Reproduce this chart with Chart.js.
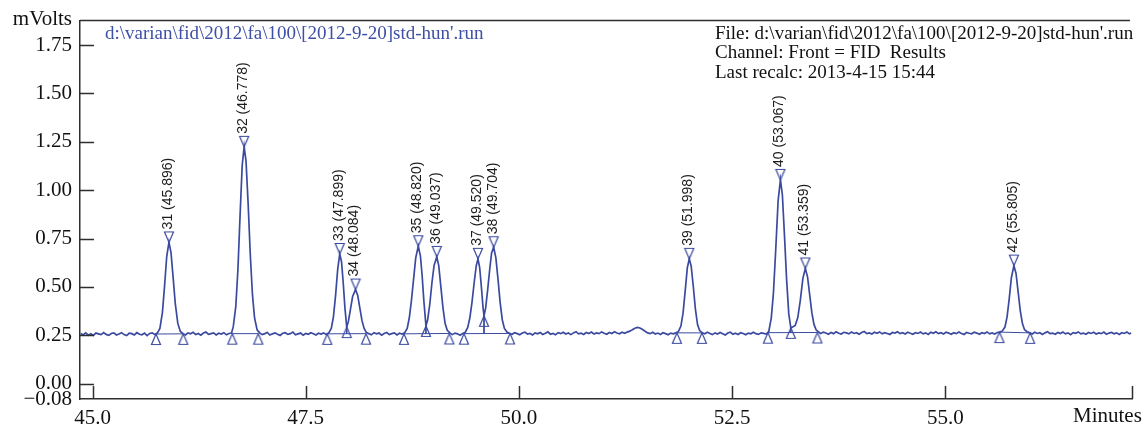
<!DOCTYPE html>
<html>
<head>
<meta charset="utf-8">
<script src="https://cdn.jsdelivr.net/npm/chart.js@4.4.0/dist/chart.umd.min.js"></script>
<style>
    html, body { margin: 0; padding: 0; background: #ffffff; }
    #cromatograma { display: block; }
</style>
</head>
<body>
<canvas id="cromatograma" width="1146" height="428"></canvas>
<script>
"use strict";

/**
 */
const filePath = "d:\\varian\\fid\\2012\\fa\\100\\[2012-9-20]std-hun'.run";
const headerLines = [
    "File: " + filePath,
    "Channel: Front = FID  Results",
    "Last recalc: 2013-4-15 15:44",
];

const peakNumbers = [31, 32, 33, 34, 35, 36, 37, 38, 39, 40, 41, 42];
const retentionTimes = [45.896, 46.778, 47.899, 48.084, 48.820, 49.037, 49.520, 49.704, 51.998, 53.067, 53.359, 55.805];
const peakHeights = [0.730, 1.224, 0.670, 0.486, 0.710, 0.655, 0.645, 0.705, 0.645, 1.053, 0.595, 0.610];

// lineas base de integracion (inicio / fin de cada grupo de picos)
const groupStartTimes = [45.744, 46.639, 47.753, 48.652, 49.356, 51.853, 52.920, 55.636];
const groupStartLevels = [0.256, 0.258, 0.257, 0.257, 0.258, 0.262, 0.263, 0.266];
const groupEndTimes = [46.064, 46.944, 48.207, 49.184, 49.896, 52.146, 53.501, 55.996];
const groupEndLevels = [0.257, 0.258, 0.258, 0.259, 0.259, 0.262, 0.264, 0.262];

// valles entre picos solapados
const valleyTimes = [47.981, 48.910, 49.591, 53.189];
const valleyLevels = [0.292, 0.298, 0.350, 0.288];
const valleyGroups = [2, 3, 4, 6];

const xTickValues = [45.0, 47.5, 50.0, 52.5, 55.0];
const yTickValues = [-0.08, 0.00, 0.25, 0.50, 0.75, 1.00, 1.25, 1.50, 1.75];

// senal del detector [minutos, mVolts]
const signal = [
    [44.86, .259], [44.89, .252], [44.92, .262], [44.95, .250], [44.98, .258], [45.01, .249], [45.04, .261], [45.07, .257],
    [45.10, .253], [45.13, .264], [45.16, .254], [45.19, .249], [45.22, .259], [45.25, .262], [45.28, .251], [45.31, .256],
    [45.34, .263], [45.37, .253], [45.40, .248], [45.43, .260], [45.46, .258], [45.49, .251], [45.52, .263], [45.55, .255],
    [45.58, .252], [45.61, .261], [45.64, .248], [45.67, .259], [45.70, .262], [45.73, .254],
    [45.76, .261], [45.79, .285], [45.82, .369], [45.845, .506], [45.87, .657], [45.896, .730], [45.92, .678],
    [45.945, .549], [45.97, .415], [46.00, .311], [46.03, .269], [46.06, .258],
    [46.09, .251], [46.12, .262], [46.15, .257], [46.18, .265], [46.21, .253], [46.24, .259], [46.27, .250], [46.30, .261],
    [46.33, .266], [46.36, .254], [46.39, .258], [46.42, .262], [46.45, .251], [46.48, .260], [46.51, .256], [46.54, .263],
    [46.57, .252], [46.60, .259], [46.63, .261],
    [46.65, .293], [46.68, .398], [46.705, .590], [46.73, .867], [46.755, 1.127], [46.778, 1.224], [46.80, 1.150],
    [46.825, .928], [46.85, .667], [46.875, .462], [46.90, .339], [46.93, .278], [46.96, .262],
    [46.99, .253], [47.02, .258], [47.05, .264], [47.08, .251], [47.11, .257], [47.14, .262], [47.17, .255], [47.20, .249],
    [47.23, .260], [47.26, .263], [47.29, .254], [47.32, .258], [47.35, .266], [47.38, .252], [47.41, .257], [47.44, .261],
    [47.47, .250], [47.50, .259], [47.53, .255], [47.56, .263], [47.59, .257], [47.62, .251], [47.65, .260], [47.68, .256],
    [47.71, .262], [47.74, .254],
    [47.77, .262], [47.80, .285], [47.825, .345], [47.85, .455], [47.875, .590], [47.899, .670], [47.92, .630],
    [47.94, .520], [47.96, .390], [47.981, .292], [48.00, .320], [48.025, .385], [48.05, .450], [48.084, .486],
    [48.11, .455], [48.135, .390], [48.16, .325], [48.185, .285], [48.21, .265], [48.24, .258],
    [48.27, .252], [48.30, .263], [48.33, .257], [48.36, .261], [48.39, .250], [48.42, .259], [48.45, .264], [48.48, .253],
    [48.51, .258], [48.54, .262], [48.57, .251], [48.60, .260], [48.63, .256],
    [48.66, .262], [48.69, .285], [48.715, .340], [48.74, .430], [48.765, .540], [48.79, .650], [48.820, .710],
    [48.845, .660], [48.865, .560], [48.885, .430], [48.910, .298], [48.93, .330], [48.955, .410], [48.98, .520],
    [49.005, .610], [49.037, .655], [49.06, .610], [49.085, .500], [49.11, .390], [49.135, .310], [49.16, .275],
    [49.19, .262],
    [49.22, .253], [49.25, .261], [49.28, .257], [49.31, .250], [49.34, .259],
    [49.37, .264], [49.40, .290], [49.425, .340], [49.45, .420], [49.475, .520], [49.50, .610], [49.520, .645],
    [49.54, .600], [49.56, .500], [49.58, .390], [49.591, .350], [49.61, .390], [49.635, .490], [49.66, .600],
    [49.68, .675], [49.704, .705], [49.73, .650], [49.755, .540], [49.78, .420], [49.805, .330], [49.83, .285],
    [49.86, .266], [49.89, .259],
    [49.92, .255], [49.95, .263], [49.98, .258], [50.01, .252], [50.04, .261], [50.07, .266], [50.10, .256], [50.13, .259],
    [50.16, .251], [50.19, .262], [50.22, .257], [50.25, .264], [50.28, .254], [50.31, .260], [50.34, .267], [50.37, .255],
    [50.40, .259], [50.43, .252], [50.46, .263], [50.49, .258], [50.52, .265], [50.55, .256], [50.58, .261], [50.61, .253],
    [50.64, .262], [50.67, .268], [50.70, .257], [50.73, .260], [50.76, .254], [50.79, .264], [50.82, .259], [50.85, .266],
    [50.88, .256], [50.91, .262], [50.94, .258], [50.97, .267], [51.00, .260], [51.03, .255], [51.06, .264], [51.09, .259],
    [51.12, .268], [51.15, .261], [51.18, .257], [51.21, .265], [51.24, .260], [51.27, .266], [51.30, .271], [51.33, .278],
    [51.36, .286], [51.39, .290], [51.42, .287], [51.45, .279], [51.48, .270], [51.51, .262], [51.54, .258], [51.57, .265],
    [51.60, .256], [51.63, .261], [51.66, .254], [51.69, .263], [51.72, .258], [51.75, .252], [51.78, .261], [51.81, .257],
    [51.84, .262],
    [51.87, .268], [51.90, .297], [51.925, .364], [51.95, .478], [51.975, .598], [51.998, .645], [52.02, .608],
    [52.045, .503], [52.07, .385], [52.095, .305], [52.12, .274], [52.15, .262],
    [52.18, .257], [52.21, .265], [52.24, .259], [52.27, .253], [52.30, .262], [52.33, .256], [52.36, .264], [52.39, .258],
    [52.42, .251], [52.45, .261], [52.48, .266], [52.51, .255], [52.54, .260], [52.57, .254], [52.60, .263], [52.63, .259],
    [52.66, .252], [52.69, .261], [52.72, .257], [52.75, .265], [52.78, .258], [52.81, .254], [52.84, .262], [52.87, .259],
    [52.90, .256],
    [52.93, .268], [52.96, .340], [52.985, .468], [53.01, .675], [53.04, .946], [53.067, 1.053], [53.09, .975],
    [53.115, .761], [53.14, .535], [53.165, .360], [53.189, .288], [53.21, .292], [53.24, .300], [53.27, .340],
    [53.30, .429], [53.33, .543], [53.359, .595], [53.385, .552], [53.41, .460], [53.435, .368], [53.46, .307],
    [53.485, .278], [53.51, .268],
    [53.54, .259], [53.57, .266], [53.60, .261], [53.63, .255], [53.66, .264], [53.69, .258], [53.72, .268], [53.75, .260],
    [53.78, .256], [53.81, .265], [53.84, .262], [53.87, .257], [53.90, .266], [53.93, .259], [53.96, .263], [53.99, .255],
    [54.02, .264], [54.05, .269], [54.08, .258], [54.11, .262], [54.14, .256], [54.17, .265], [54.20, .260], [54.23, .267],
    [54.26, .257], [54.29, .263], [54.32, .259], [54.35, .254], [54.38, .264], [54.41, .261], [54.44, .268], [54.47, .258],
    [54.50, .263], [54.53, .256], [54.56, .265], [54.59, .260], [54.62, .255], [54.65, .263], [54.68, .259], [54.71, .266],
    [54.74, .257], [54.77, .262], [54.80, .254], [54.83, .265], [54.86, .260], [54.89, .268], [54.92, .258], [54.95, .263],
    [54.98, .256], [55.01, .265], [55.04, .261], [55.07, .255], [55.10, .263], [55.13, .258], [55.16, .266], [55.19, .259],
    [55.22, .254], [55.25, .264], [55.28, .260], [55.31, .257], [55.34, .265], [55.37, .261], [55.40, .255], [55.43, .263],
    [55.46, .259], [55.49, .267], [55.52, .257], [55.55, .262], [55.58, .256], [55.61, .264],
    [55.64, .266], [55.67, .272], [55.70, .292], [55.725, .345], [55.75, .438], [55.775, .546], [55.805, .610],
    [55.83, .569], [55.855, .473], [55.88, .376], [55.905, .310], [55.93, .278], [55.96, .268], [55.99, .262],
    [56.02, .256], [56.05, .265], [56.08, .259], [56.11, .263], [56.14, .254], [56.17, .262], [56.20, .268], [56.23, .258],
    [56.26, .261], [56.29, .255], [56.32, .264], [56.35, .259], [56.38, .266], [56.41, .257], [56.44, .262], [56.47, .253],
    [56.50, .263], [56.53, .260], [56.56, .267], [56.59, .257], [56.62, .261], [56.65, .255], [56.68, .264], [56.71, .259],
    [56.74, .265], [56.77, .256], [56.80, .262], [56.83, .258], [56.86, .266], [56.89, .255], [56.92, .261], [56.95, .264],
    [56.98, .257], [57.01, .262], [57.04, .254], [57.07, .263], [57.10, .259], [57.13, .266], [57.16, .257], [57.18, .261],
];

const azul = "#3b4a9f";
const azulTexto = "#3e4fa6";
const ejeColor = "#2e2e2e";
const serif = "'Liberation Serif', 'Times New Roman', serif";

/**
 * Marcadores triangulares: la punta queda justo sobre el punto
 */
function crearTriangulo(haciaAbajo) {
    const c = document.createElement("canvas");
    c.width = 12;
    c.height = 24;
    const g = c.getContext("2d");
    g.strokeStyle = azul;
    g.lineWidth = 1.2;
    g.beginPath();
    if (haciaAbajo) {
        g.moveTo(1.5, 1.5);
        g.lineTo(10.5, 1.5);
        g.lineTo(6, 12);
    } else {
        g.moveTo(6, 12);
        g.lineTo(10.5, 22.5);
        g.lineTo(1.5, 22.5);
    }
    g.closePath();
    g.stroke();
    return c;
}

const trianguloAbajo = crearTriangulo(true);
const trianguloArriba = crearTriangulo(false);

const traceData = signal.map(([t, v]) => ({ x: t, y: v }));

const baselineData = [];
groupStartTimes.forEach((t, i) => {
    baselineData.push({ x: t, y: groupStartLevels[i] });
    baselineData.push({ x: groupEndTimes[i], y: groupEndLevels[i] });
    baselineData.push({ x: groupEndTimes[i], y: null });
});

const dropData = [];
valleyTimes.forEach((t, i) => {
    const g = valleyGroups[i];
    const f = (t - groupStartTimes[g]) / (groupEndTimes[g] - groupStartTimes[g]);
    const nivel = groupStartLevels[g] + f * (groupEndLevels[g] - groupStartLevels[g]);
    dropData.push({ x: t, y: valleyLevels[i] });
    dropData.push({ x: t, y: nivel });
    dropData.push({ x: t, y: null });
});

const apexData = retentionTimes.map((t, i) => ({ x: t, y: peakHeights[i] }));

const boundData = [];
groupStartTimes.forEach((t, i) => {
    boundData.push({ x: t, y: groupStartLevels[i] });
    boundData.push({ x: groupEndTimes[i], y: groupEndLevels[i] });
});
valleyTimes.forEach((t, i) => boundData.push({ x: t, y: valleyLevels[i] }));

/**
 * Marco, marcas interiores, etiquetas de picos y encabezado
 */
const decoracion = {
    id: "decoracion",
    afterDatasetsDraw(chart) {
        const { ctx, chartArea, scales } = chart;
        const xs = scales.x;
        const ys = scales.y;

        ctx.save();
        ctx.strokeStyle = ejeColor;
        ctx.lineWidth = 1.5;
        ctx.beginPath();
        ctx.moveTo(chartArea.left, chartArea.top);
        ctx.lineTo(chartArea.right - 2, chartArea.top);

        yTickValues.forEach((v) => {
            if (v < 0) return;
            const py = Math.round(ys.getPixelForValue(v)) + 0.5;
            ctx.moveTo(chartArea.left, py);
            ctx.lineTo(chartArea.left + 14, py);
        });
        xTickValues.concat([xs.max]).forEach((v) => {
            const px = Math.round(xs.getPixelForValue(v)) + 0.5;
            ctx.moveTo(px, chartArea.bottom);
            ctx.lineTo(px, chartArea.bottom - 13);
        });
        ctx.stroke();

        // etiquetas de los picos
        ctx.fillStyle = "#1c1c1c";
        ctx.font = "14px 'Liberation Sans', Arial, sans-serif";
        ctx.textAlign = "left";
        ctx.textBaseline = "middle";
        peakNumbers.forEach((n, i) => {
            const px = xs.getPixelForValue(retentionTimes[i]) - 1;
            const py = ys.getPixelForValue(peakHeights[i]) - 13;
            ctx.save();
            ctx.translate(px, py);
            ctx.rotate(-Math.PI / 2);
            ctx.fillText(n + " (" + retentionTimes[i].toFixed(3) + ")", 0, 0);
            ctx.restore();
        });

        // titulos de ejes
        ctx.fillStyle = "#111111";
        ctx.font = "21px " + serif;
        ctx.textAlign = "right";
        ctx.textBaseline = "alphabetic";
        ctx.fillText("mVolts", chartArea.left - 8, 25);
        ctx.textAlign = "left";
        ctx.textBaseline = "top";
        ctx.fillText("Minutes", 1073, chartArea.bottom + 7);

        // encabezado
        ctx.font = "19px " + serif;
        ctx.textBaseline = "alphabetic";
        ctx.fillStyle = azulTexto;
        ctx.fillText(filePath, 105, 39);
        ctx.fillStyle = "#111111";
        headerLines.forEach((linea, i) => {
            ctx.fillText(linea, 715, 38.5 + i * 19.5);
        });
        ctx.restore();
    },
};

new Chart(document.querySelector("#cromatograma"), {
    type: "line",
    data: {
        datasets: [
            {
                data: traceData,
                borderColor: azul,
                borderWidth: 1.7,
                pointRadius: 0,
                tension: 0,
            },
            {
                data: baselineData,
                borderColor: azul,
                borderWidth: 1,
                pointRadius: 0,
                spanGaps: false,
            },
            {
                data: dropData,
                borderColor: azul,
                borderWidth: 1,
                pointRadius: 0,
                spanGaps: false,
            },
            {
                data: apexData,
                showLine: false,
                pointStyle: trianguloAbajo,
                pointRadius: 6,
            },
            {
                data: boundData,
                showLine: false,
                pointStyle: trianguloArriba,
                pointRadius: 6,
            },
        ],
    },
    options: {
        responsive: false,
        animation: false,
        events: [],
        layout: {
            padding: { top: 15, right: 14, left: 0, bottom: 0 },
        },
        plugins: {
            legend: { display: false },
            tooltip: { enabled: false },
        },
        scales: {
            x: {
                type: "linear",
                min: 44.853,
                max: 57.19,
                afterBuildTicks: (scale) => {
                    scale.ticks = xTickValues.map((v) => ({ value: v }));
                },
                afterFit: (scale) => {
                    scale.height = 29;
                },
                ticks: {
                    autoSkip: false,
                    maxRotation: 0,
                    padding: 7,
                    color: "#111111",
                    font: { family: serif, size: 21 },
                    callback: (v) => Number(v).toFixed(1),
                },
                grid: { display: false, drawTicks: false },
                border: { display: true, color: ejeColor, width: 1.5 },
            },
            y: {
                type: "linear",
                min: -0.08,
                max: 1.877,
                afterBuildTicks: (scale) => {
                    scale.ticks = yTickValues.map((v) => ({ value: v }));
                },
                afterFit: (scale) => {
                    scale.width = 80;
                },
                ticks: {
                    autoSkip: false,
                    padding: 8,
                    color: "#111111",
                    font: { family: serif, size: 21 },
                    callback: (v) => (v < 0 ? "\u2212" + Math.abs(v).toFixed(2) : Number(v).toFixed(2)),
                },
                grid: { display: false, drawTicks: false },
                border: { display: true, color: ejeColor, width: 1.5 },
            },
        },
    },
    plugins: [decoracion],
});
</script>
</body>
</html>
